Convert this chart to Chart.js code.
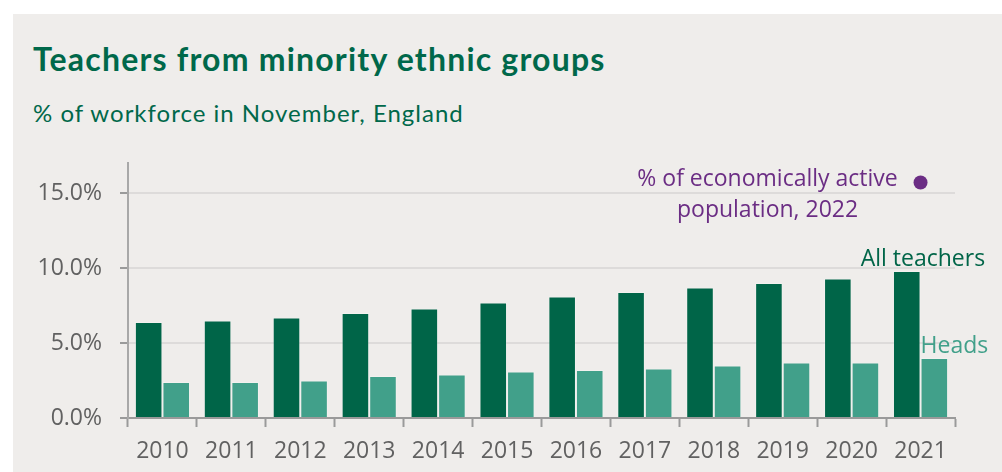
<!DOCTYPE html>
<html>
<head>
<meta charset="utf-8">
<title>Teachers from minority ethnic groups</title>
<script src="https://cdn.jsdelivr.net/npm/chart.js"></script>
<style>
    html, body { margin: 0; padding: 0; background: #ffffff; }
    .panel {
        position: absolute; left: 13px; top: 14px; width: 989px; height: 458px;
        background: #efedeb;
    }
    .title {
        position: absolute; left: 33px; top: 39px; margin: 0;
        font: bold 32px Lato, "Noto Sans", sans-serif; color: #00684a;
        letter-spacing: 1.2px; white-space: nowrap;
    }
    .subtitle {
        position: absolute; left: 33px; top: 98px; margin: 0;
        font: 24px Lato, "Noto Sans", sans-serif; color: #00684a;
        letter-spacing: 1px; white-space: nowrap;
    }
    .chart { position: absolute; left: 0; top: 0; width: 1002px; height: 472px; }
</style>
</head>
<body>
    <div class="panel"></div>
    <h1 class="title">Teachers from minority ethnic groups</h1>
    <p class="subtitle">% of workforce in November, England</p>
    <div class="chart">
        <canvas id="teachers" width="1002" height="472"></canvas>
    </div>
<script>
    const years = ['2010', '2011', '2012', '2013', '2014', '2015', '2016', '2017', '2018', '2019', '2020', '2021'];
    const allTeachers = [6.4, 6.5, 6.7, 7.0, 7.3, 7.7, 8.1, 8.4, 8.7, 9.0, 9.3, 9.8];
    const heads = [2.4, 2.4, 2.5, 2.8, 2.9, 3.1, 3.2, 3.3, 3.5, 3.7, 3.7, 4.0];
    const economicallyActive = [null, null, null, null, null, null, null, null, null, null, null, 15.7];
    const yTicks = [0, 5, 10, 15];

    const darkGreen = '#006548';
    const lightGreen = '#41a08a';
    const purple = '#6b2d84';
    const tickFont = { family: '"Open Sans", "Noto Sans", sans-serif', size: 23 };

    // text labels next to the 2021 marks
    const endLabels = {
        id: 'endLabels',
        afterDatasetsDraw(chart) {
            const ctx = chart.ctx;
            const last = years.length - 1;
            const bar0 = chart.getDatasetMeta(0).data[last];
            const bar1 = chart.getDatasetMeta(1).data[last];
            const dot = chart.getDatasetMeta(2).data[last];
            ctx.save();
            ctx.font = '23px "Open Sans", "Noto Sans", sans-serif';
            ctx.textBaseline = 'alphabetic';

            ctx.fillStyle = darkGreen;
            ctx.textAlign = 'right';
            ctx.fillText('All teachers', bar1.x + bar1.width / 2 + 37, bar0.y - 5);

            ctx.fillStyle = lightGreen;
            ctx.textAlign = 'left';
            ctx.fillText('Heads', bar1.x - bar1.width / 2, bar1.y - 5);

            ctx.fillStyle = purple;
            ctx.textAlign = 'center';
            ctx.fillText('% of economically active', dot.x - 153, dot.y + 3);
            ctx.fillText('population, 2022', dot.x - 153, dot.y + 34);
            ctx.restore();
        }
    };

    new Chart(document.getElementById('teachers'), {
        type: 'bar',
        data: {
            labels: years,
            datasets: [
                {
                    label: 'All teachers',
                    data: allTeachers,
                    backgroundColor: darkGreen,
                    borderColor: 'rgba(255,255,255,0.22)',
                    borderWidth: 1,
                    categoryPercentage: 0.8,
                    barPercentage: 1.0,
                    order: 2
                },
                {
                    label: 'Heads',
                    data: heads,
                    backgroundColor: lightGreen,
                    borderColor: 'rgba(255,255,255,0.22)',
                    borderWidth: 1,
                    categoryPercentage: 0.8,
                    barPercentage: 1.0,
                    order: 2
                },
                {
                    type: 'line',
                    label: '% of economically active population, 2022',
                    data: economicallyActive,
                    showLine: false,
                    pointRadius: 7,
                    pointBackgroundColor: purple,
                    pointBorderWidth: 0,
                    order: 1
                }
            ]
        },
        options: {
            responsive: false,
            animation: false,
            layout: { padding: { left: 0, right: 47, top: 163, bottom: 0 } },
            plugins: {
                legend: { display: false },
                tooltip: { enabled: false }
            },
            scales: {
                x: {
                    grid: {
                        offset: true,
                        drawOnChartArea: false,
                        drawTicks: true,
                        tickLength: 9,
                        tickWidth: 2,
                        tickColor: '#9a9a9a'
                    },
                    border: { color: '#9a9a9a', width: 2 },
                    ticks: { font: tickFont, color: '#616161', padding: 11, maxRotation: 0 },
                    afterFit: s => { s.height = 54; }
                },
                y: {
                    min: 0,
                    max: 17,
                    grid: {
                        color: '#dddbda',
                        lineWidth: 2,
                        tickLength: 8,
                        tickWidth: 2,
                        tickColor: '#9a9a9a'
                    },
                    border: { color: '#a8a8a8', width: 2 },
                    ticks: {
                        font: tickFont,
                        color: '#616161',
                        padding: 18,
                        callback: v => v.toFixed(1) + '%'
                    },
                    afterBuildTicks: s => { s.ticks = yTicks.map(v => ({ value: v })); },
                    afterFit: s => { s.width = 128; }
                }
            }
        },
        plugins: [endLabels]
    });
</script>
</body>
</html>
